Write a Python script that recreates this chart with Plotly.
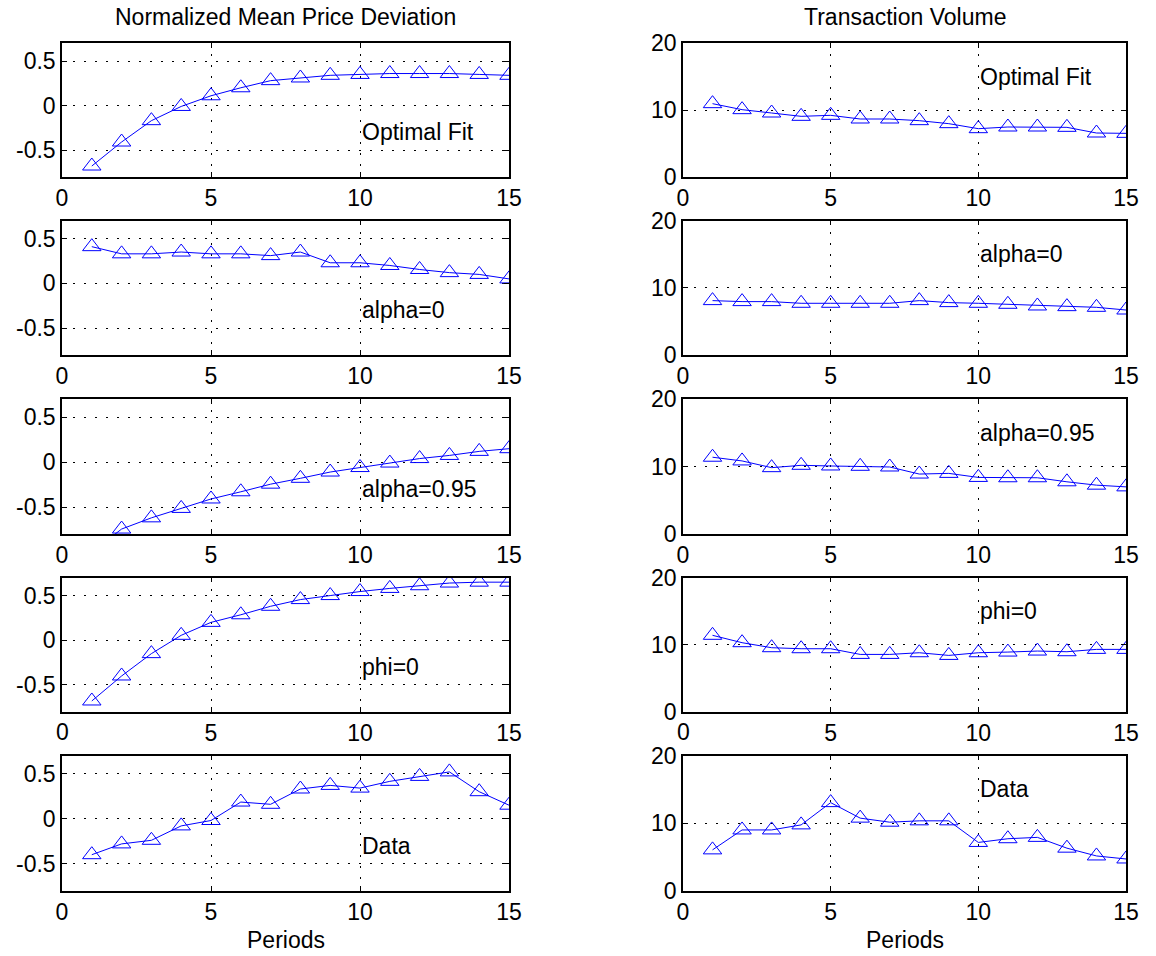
import plotly.graph_objects as go

periods = list(range(1, 16))

price_labels = ["Optimal Fit", "alpha=0", "alpha=0.95", "phi=0", "Data"]
price_optimal = [-0.68, -0.41, -0.17, -0.01, 0.11, 0.20, 0.28, 0.31, 0.34, 0.35, 0.36, 0.36, 0.36, 0.35, 0.34]
price_alpha0 = [0.41, 0.33, 0.33, 0.35, 0.33, 0.33, 0.31, 0.35, 0.23, 0.23, 0.20, 0.155, 0.12, 0.10, 0.05]
price_alpha095 = [-1.0, -0.745, -0.62, -0.515, -0.41, -0.33, -0.245, -0.18, -0.11, -0.06, -0.01, 0.04, 0.075, 0.12, 0.15]
price_phi0 = [-0.68, -0.40, -0.15, 0.055, 0.20, 0.285, 0.38, 0.455, 0.50, 0.545, 0.58, 0.61, 0.64, 0.65, 0.65]
price_data = [-0.40, -0.28, -0.24, -0.08, -0.02, 0.185, 0.16, 0.33, 0.37, 0.34, 0.415, 0.47, 0.52, 0.30, 0.15]

vol_optimal = [10.95, 10.05, 9.55, 9.05, 9.2, 8.65, 8.65, 8.4, 7.95, 7.2, 7.45, 7.45, 7.4, 6.55, 6.5]
vol_alpha0 = [8.1, 7.95, 7.95, 7.7, 7.7, 7.7, 7.7, 8.1, 7.8, 7.7, 7.55, 7.3, 7.2, 7.1, 6.7]
vol_alpha095 = [11.4, 10.85, 9.85, 10.2, 10.1, 10.05, 9.95, 8.9, 9.0, 8.4, 8.35, 8.35, 7.75, 7.25, 7.0]
vol_phi0 = [11.4, 10.3, 9.55, 9.4, 9.4, 8.55, 8.55, 8.8, 8.4, 8.8, 8.9, 9.05, 8.95, 9.3, 9.3]
vol_data = [6.05, 9.0, 9.0, 9.75, 13.05, 10.75, 10.15, 10.35, 10.35, 7.15, 7.7, 7.9, 6.3, 5.15, 4.7]

price_series = [price_optimal, price_alpha0, price_alpha095, price_phi0, price_data]
vol_series = [vol_optimal, vol_alpha0, vol_alpha095, vol_phi0, vol_data]

x_ticks = [0, 5, 10, 15]
price_ticks = [-0.5, 0, 0.5]
price_range = [-0.8, 0.7]
vol_ticks = [0, 10, 20]
vol_range = [0, 20]

W, H = 1156, 956
left_dom = [62 / W, 509 / W]
right_dom = [683 / W, 1126 / W]
row_pix = [(43.3, 176.7), (220.7, 355.0), (399.3, 534.0), (577.7, 711.7), (755.7, 890.7)]
row_dom = [[1 - b / H, 1 - t / H] for t, b in row_pix]

FONT = "Liberation Sans, Arial, Helvetica, sans-serif"
FS = 23
BLUE = "#0000ff"
GRIDDASH = "2px,9px"

fig = go.Figure()
layout = {}
annotations = []

for i in range(5):
    for col in range(2):
        idx = i + 1 + col * 5
        xa = "x" if idx == 1 else f"x{idx}"
        ya = "y" if idx == 1 else f"y{idx}"
        yvals = price_series[i] if col == 0 else vol_series[i]
        fig.add_trace(go.Scatter(
            x=periods, y=yvals, xaxis=xa, yaxis=ya, mode="lines+markers",
            line=dict(color=BLUE, width=1),
            marker=dict(symbol="triangle-up-open", size=16, color=BLUE, line=dict(width=1, color=BLUE)),
            showlegend=False, cliponaxis=True,
        ))
        common = dict(
            showline=True, linecolor="black", linewidth=1.5, mirror="ticks",
            ticks="inside", ticklen=5, tickcolor="black", tickwidth=1,
            showgrid=True, gridcolor="black", gridwidth=1, griddash=GRIDDASH,
            zeroline=False, automargin=False, ticklabeloverflow="allow",
            tickfont=dict(family=FONT, size=FS, color="black"),
        )
        # plotly drops the first x tick label on the fourth row; draw it as a label instead
        row_ticks = x_ticks[1:] if i == 3 else x_ticks
        layout[f"xaxis{idx}"] = dict(
            common, domain=left_dom if col == 0 else right_dom, anchor=ya,
            range=[0, 15], tickvals=row_ticks, ticktext=[str(v) for v in row_ticks],
        )
        if i == 3:
            annotations.append(dict(
                x=x_ticks[0], y=1 - (row_pix[i][1] + 20.5) / H, xref=xa, yref="paper",
                text=str(x_ticks[0]), showarrow=False, xanchor="center", yanchor="middle",
                font=dict(family=FONT, size=FS, color="black"),
            ))
        if col == 0:
            layout[f"yaxis{idx}"] = dict(
                common, domain=row_dom[i], anchor=xa, range=price_range,
                tickvals=price_ticks, ticktext=["-0.5", "0", "0.5"],
            )
            annotations.append(dict(
                x=10, y=-0.3, xref=xa, yref=ya, text=price_labels[i], showarrow=False,
                xanchor="left", yanchor="middle", font=dict(family=FONT, size=FS, color="black"),
            ))
        else:
            layout[f"yaxis{idx}"] = dict(
                common, domain=row_dom[i], anchor=xa, range=vol_range,
                tickvals=vol_ticks, ticktext=[str(v) for v in vol_ticks],
            )
            annotations.append(dict(
                x=10, y=15, xref=xa, yref=ya, text=price_labels[i], showarrow=False,
                xanchor="left", yanchor="middle", font=dict(family=FONT, size=FS, color="black"),
            ))

titles = [("Normalized Mean Price Deviation", (left_dom[0] + left_dom[1]) / 2),
          ("Transaction Volume", (right_dom[0] + right_dom[1]) / 2)]
for text, xc in titles:
    annotations.append(dict(
        x=xc, y=1 - 17 / H, xref="paper", yref="paper", text=text, showarrow=False,
        xanchor="center", yanchor="middle", font=dict(family=FONT, size=FS, color="black"),
    ))
    annotations.append(dict(
        x=xc, y=1 - 940 / H, xref="paper", yref="paper", text="Periods", showarrow=False,
        xanchor="center", yanchor="middle", font=dict(family=FONT, size=FS, color="black"),
    ))

fig.update_layout(
    **layout,
    annotations=annotations,
    width=W, height=H,
    margin=dict(l=0, r=0, t=0, b=0, autoexpand=False),
    paper_bgcolor="white", plot_bgcolor="white",
    font=dict(family=FONT, size=FS, color="black"),
)

fig.write_html("out.html", config={"displayModeBar": False},
               post_script="document.body.style.margin='0';document.body.style.overflow='hidden';")
